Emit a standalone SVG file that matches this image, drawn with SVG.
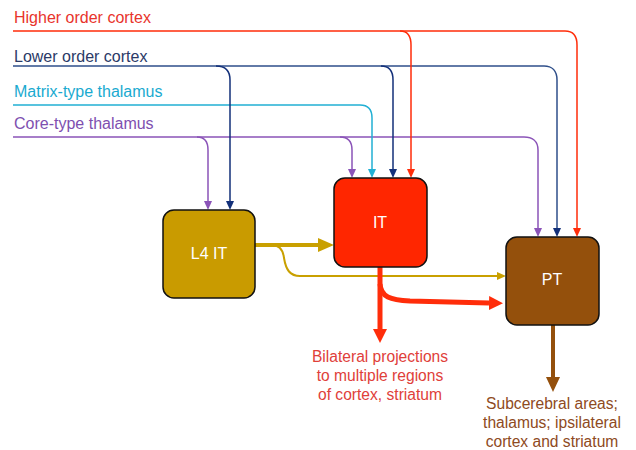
<svg xmlns="http://www.w3.org/2000/svg" width="636" height="450" viewBox="0 0 636 450">
<style>
.lbl{font-family:"Liberation Sans",Arial,sans-serif;font-size:16px}
.node rect{stroke:#111;stroke-width:1.5}
.node text{font-family:"Liberation Sans",Arial,sans-serif;font-size:16px;fill:#fff;text-anchor:middle}
.ln{fill:none;stroke-width:1.5}
.out{font-family:"Liberation Sans",Arial,sans-serif;font-size:15.6px;text-anchor:middle}
</style>
<defs>
<marker id="aP" viewBox="0 -4 9 8" markerWidth="9" markerHeight="8" refX="0" refY="0" orient="auto" markerUnits="userSpaceOnUse"><path d="M0,-4 L9,0 L0,4 z" fill="#8B54B8"/></marker>
<marker id="aN" viewBox="0 -4 9 8" markerWidth="9" markerHeight="8" refX="0" refY="0" orient="auto" markerUnits="userSpaceOnUse"><path d="M0,-4 L9,0 L0,4 z" fill="#13307A"/></marker>
<marker id="aC" viewBox="0 -4 9 8" markerWidth="9" markerHeight="8" refX="0" refY="0" orient="auto" markerUnits="userSpaceOnUse"><path d="M0,-4 L9,0 L0,4 z" fill="#22B0D4"/></marker>
<marker id="aR" viewBox="0 -4 9 8" markerWidth="9" markerHeight="8" refX="0" refY="0" orient="auto" markerUnits="userSpaceOnUse"><path d="M0,-4 L9,0 L0,4 z" fill="#FF2D0A"/></marker>
<marker id="aG" viewBox="0 -4 9 8" markerWidth="9" markerHeight="8" refX="0" refY="0" orient="auto" markerUnits="userSpaceOnUse"><path d="M0,-4 L9,0 L0,4 z" fill="#C9A000"/></marker>
<marker id="bG" viewBox="0 -7 16 14" markerWidth="16" markerHeight="14" refX="0" refY="0" orient="auto" markerUnits="userSpaceOnUse"><path d="M0,-7 L16,0 L0,7 z" fill="#C9A000"/></marker>
<marker id="bR" viewBox="0 -7 14 14" markerWidth="14" markerHeight="14" refX="0" refY="0" orient="auto" markerUnits="userSpaceOnUse"><path d="M0,-7 L14,0 L0,7 z" fill="#FF2D0A"/></marker>
<marker id="bB" viewBox="0 -7 15 14" markerWidth="15" markerHeight="14" refX="0" refY="0" orient="auto" markerUnits="userSpaceOnUse"><path d="M0,-7 L15,0 L0,7 z" fill="#94500C"/></marker>
</defs>
<rect width="636" height="450" fill="#fff"/>
<g id="labels">
<text class="lbl" x="14" y="23" fill="#E8342C">Higher order cortex</text>
<text class="lbl" x="14" y="62" fill="#2B3A67">Lower order cortex</text>
<text class="lbl" x="14" y="97" fill="#1AAAD0">Matrix-type thalamus</text>
<text class="lbl" x="14" y="129" fill="#7E4FB0">Core-type thalamus</text>
</g>
<g id="connectors">
<path class="ln" stroke="#8B54B8" d="M13,137 H524 C532,137 538,141 538,150 V228" marker-end="url(#aP)"/>
<path class="ln" stroke="#8B54B8" d="M197,137 C204,137 208,141 208,150 V201" marker-end="url(#aP)"/>
<path class="ln" stroke="#8B54B8" d="M340,137 C347,137 352,141 352,150 V169" marker-end="url(#aP)"/>
<path class="ln" stroke="#22B0D4" d="M13,105 H360 C368,105 372,109 372,118 V169" marker-end="url(#aC)"/>
<path class="ln" stroke="#2F4F8A" d="M13,66 H544 C552,66 557,71 557,80 V228" marker-end="url(#aN)"/>
<path class="ln" stroke="#13307A" d="M216,66 C225,66 230,71 230,80 V201" marker-end="url(#aN)"/>
<path class="ln" stroke="#13307A" d="M381,66 C389,66 393,71 393,80 V169" marker-end="url(#aN)"/>
<path class="ln" stroke="#FF2D0A" d="M13,31 H565 C573,31 577,36 577,45 V228" marker-end="url(#aR)"/>
<path class="ln" stroke="#FF2D0A" d="M400,31 C407,31 411,36 411,45 V169" marker-end="url(#aR)"/>
<path fill="none" stroke="#C9A000" stroke-width="4" d="M255,245 H318" marker-end="url(#bG)"/>
<path fill="none" stroke="#C9A000" stroke-width="2" d="M262,245 H272 C280,245 283,250 284,258 C286,270 290,276 300,276 H497" marker-end="url(#aG)"/>
<path fill="none" stroke="#FF2D0A" stroke-width="5" d="M380,266 V329" marker-end="url(#bR)"/>
<path fill="none" stroke="#FF2D0A" stroke-width="5" d="M380,284 C381,297 390,300 410,301 L489,303" marker-end="url(#bR)"/>
<path fill="none" stroke="#94500C" stroke-width="4" d="M553,324 V377" marker-end="url(#bB)"/>
</g>
<g id="node-l4it" class="node"><rect x="163" y="210" width="92" height="88" rx="11" fill="#C99B00"/><text x="209" y="259">L4 IT</text></g>
<g id="node-it" class="node"><rect x="334" y="178" width="93" height="89" rx="11" fill="#FF2600"/><text x="380" y="228">IT</text></g>
<g id="node-pt" class="node"><rect x="506" y="237" width="93" height="88" rx="11" fill="#94500C"/><text x="552" y="285">PT</text></g>
<g id="outputs">
<text class="out" fill="#E0403A"><tspan x="380" y="362">Bilateral projections</tspan><tspan x="380" y="381">to multiple regions</tspan><tspan x="380" y="400">of cortex, striatum</tspan></text>
<text class="out" fill="#8E4A22"><tspan x="552" y="409">Subcerebral areas;</tspan><tspan x="552" y="428">thalamus; ipsilateral</tspan><tspan x="552" y="447">cortex and striatum</tspan></text>
</g>
</svg>
